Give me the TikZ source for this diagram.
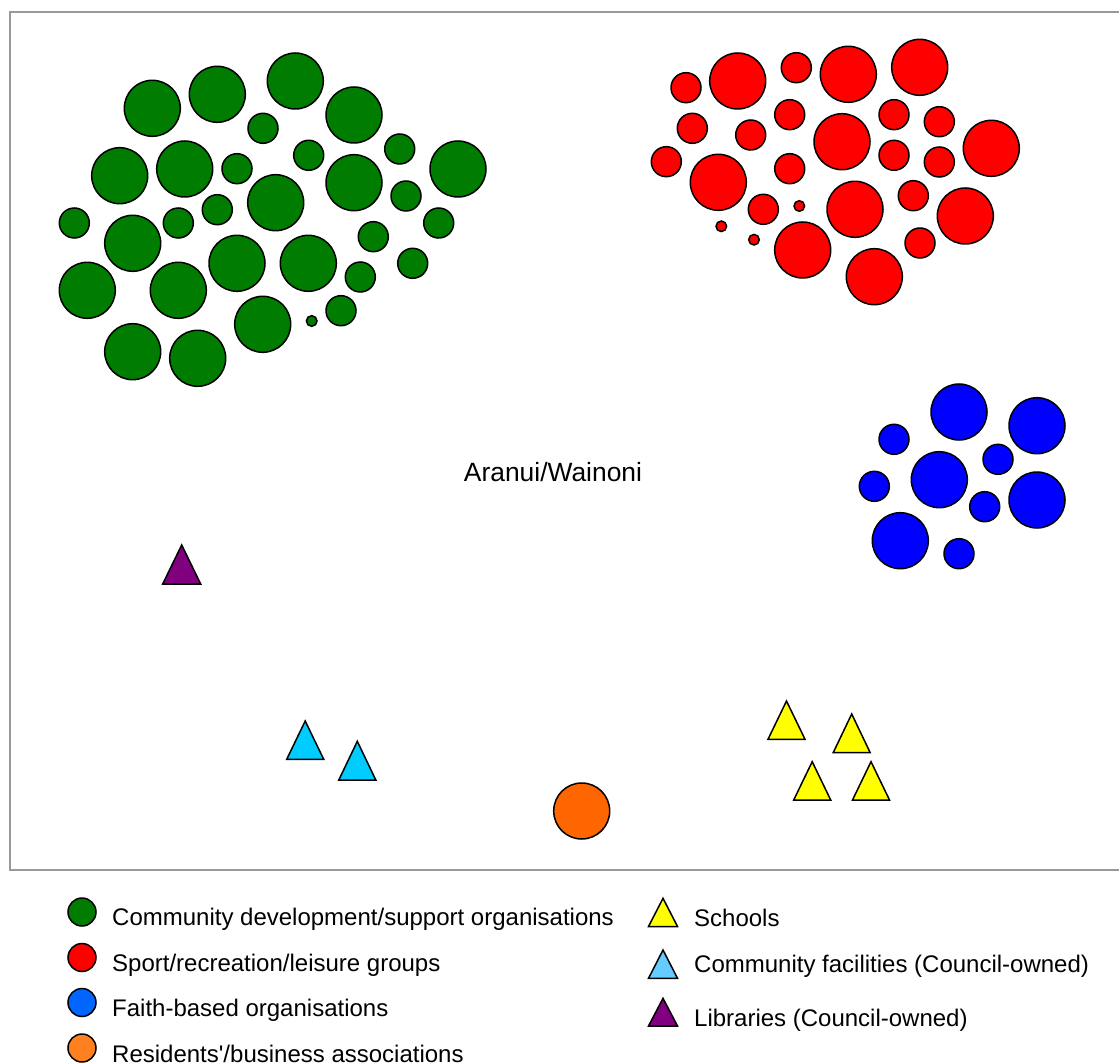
\documentclass[tikz,border=0pt]{standalone}
\usepackage{fontspec}
\setmainfont{Liberation Sans}
\definecolor{cgreen}{RGB}{0,125,0}
\definecolor{cred}{RGB}{255,0,0}
\definecolor{cblue}{RGB}{0,0,255}
\definecolor{corange}{RGB}{255,102,0}
\definecolor{ccyan}{RGB}{0,204,255}
\definecolor{cyellow}{RGB}{255,255,0}
\definecolor{cpurple}{RGB}{128,0,128}
\definecolor{lblue}{RGB}{0,102,255}
\definecolor{lorange}{RGB}{255,128,32}
\definecolor{lcyan}{RGB}{102,204,255}
\definecolor{framegray}{RGB}{153,153,153}
\begin{document}
\begin{tikzpicture}[x=1pt,y=-1pt,
  blob/.style={circle,draw=black,line width=1.5pt,inner sep=0pt,outer sep=0pt},
  tri/.style={draw=black,line width=1.5pt,line join=miter},
  legtext/.style={anchor=base west,inner sep=0pt,font=\fontsize{24}{28}\selectfont},
]
\useasboundingbox (0,0) rectangle (1119,1064);
\fill[white] (0,0) rectangle (1119,1064);
% frame
\draw[framegray,line width=2pt] (1121,12.5) -- (9.5,12.5) -- (9.5,870) -- (1121,870);

% green cluster
\foreach \x/\y/\r [count=\i] in {
152.3/108.3/28, 217.3/94.3/28, 295.3/81/28, 263/128.3/15, 354/115/28,
399.7/149/15, 458/169/28, 119.7/175.7/28, 184.7/169/28, 237/168.7/15,
308.7/155.3/15, 354/182.7/28, 406/196/15, 275.7/202.7/28, 217.3/209.7/15,
178.3/223/15, 74.3/223/15, 132.7/243.3/28, 438.7/223/15, 373.3/236.7/15,
237/263.3/28, 308.3/263.3/28, 412.7/263.3/15, 360.3/277/15, 87.3/290.3/28,
178.3/290.3/28, 262.7/324.3/28, 311.7/321/5.3, 341/310.7/15, 132.7/351.7/28,
197.7/358.3/28}
  \node[blob,fill=cgreen,minimum size={2*\r}] (g\i) at (\x,\y) {};

% red cluster
\foreach \x/\y/\r [count=\i] in {
686/87.7/15, 737.7/81/28, 796.3/67.7/15, 848.3/74.3/28, 919.7/67.3/28,
692.3/128.3/15, 750.7/135/15, 789.7/114.7/15, 842/141.7/28, 894/114.7/15,
939.3/121.7/15, 991.3/148.3/28, 666.3/161.7/15, 718.3/182.3/28, 789.7/168.7/15,
894/155.3/15, 939.3/162/15, 763.3/209.3/15, 799.3/206/5.3, 855/209.3/28,
913.3/195.7/15, 965.3/216/28, 721.3/226.3/5.3, 754/239.7/5.3, 802.7/250/28,
920/243/15, 874.3/276.7/28}
  \node[blob,fill=cred,minimum size={2*\r}] (r\i) at (\x,\y) {};

% blue cluster
\foreach \x/\y/\r [count=\i] in {
959/412/28, 1037/425.7/28, 894/439.3/15, 998/459.3/15, 939.3/479.7/28,
874.3/486.3/15, 984.7/506.7/15, 1037/500/28, 900.3/540.7/28, 959/553.7/15}
  \node[blob,fill=cblue,minimum size={2*\r}] (b\i) at (\x,\y) {};

% orange
\node[blob,fill=corange,minimum size=56] (o1) at (581.7,811) {};

% label
\node[anchor=base,inner sep=0pt,font=\fontsize{26.4}{30}\selectfont] (lab) at (553,481.7) {Aranui/Wainoni};

% map triangles
\draw[tri,fill=cpurple] (162.7,584) -- (200.7,584) -- (181.7,545) -- cycle;
\draw[tri,fill=ccyan] (286.7,759.3) -- (323.7,759.3) -- (305.2,721) -- cycle;
\draw[tri,fill=ccyan] (338.8,780) -- (375.8,780) -- (357.3,741.3) -- cycle;
\draw[tri,fill=cyellow] (768,739.3) -- (805,739.3) -- (786.5,701) -- cycle;
\draw[tri,fill=cyellow] (833.2,752.7) -- (870.2,752.7) -- (851.7,714) -- cycle;
\draw[tri,fill=cyellow] (793.7,800) -- (830.7,800) -- (812.2,761.7) -- cycle;
\draw[tri,fill=cyellow] (852.5,800) -- (889.5,800) -- (871,761.7) -- cycle;

% legend left
\node[blob,fill=cgreen,minimum size=28] (lg) at (82,912) {};
\node[blob,fill=cred,minimum size=28] (lr) at (82,957.5) {};
\node[blob,fill=lblue,minimum size=28] (lb) at (82,1002.5) {};
\node[blob,fill=lorange,minimum size=28] (lo) at (82,1048) {};
\node[legtext] (tg) at (112,925) {Community development/support organisations};
\node[legtext] (tr) at (112,971) {Sport/recreation/leisure groups};
\node[legtext] (tb) at (112,1016.5) {Faith-based organisations};
\node[legtext] (to) at (112,1062) {Residents\textquotesingle/business associations};

% legend right
\draw[tri,fill=cyellow] (648.5,926.5) -- (677.5,926.5) -- (663,898.3) -- cycle;
\draw[tri,fill=lcyan] (648.5,978.3) -- (677.5,978.3) -- (663,950) -- cycle;
\draw[tri,fill=cpurple] (648.5,1026) -- (677.5,1026) -- (663,998.3) -- cycle;
\node[legtext] (ts) at (694,926) {Schools};
\node[legtext] (tc) at (694,972) {Community facilities (Council-owned)};
\node[legtext] (tl) at (694,1026) {Libraries (Council-owned)};
\end{tikzpicture}
\end{document}
